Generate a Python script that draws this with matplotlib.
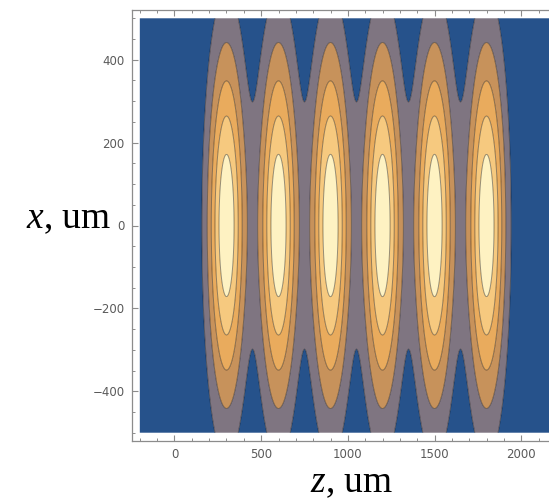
import numpy as np
import matplotlib
matplotlib.use("Agg")
import matplotlib.pyplot as plt
from matplotlib.ticker import MultipleLocator

# Focal spot positions along z (um) and beam parameters
focus_z = [300, 600, 900, 1200, 1500, 1800]
beam_radius_x = 425.0      # 1/e radius of the transverse profile, um
spot_length_z = 106.8      # 1/e half-length of each focal spot, um

# Plot domain (um)
z_range = [-200, 2200]
x_range = [-500, 500]

# Contour levels (relative intensity) and band colours
contour_levels = [0.17, 0.34, 0.51, 0.68, 0.85]
band_colors = ["#26528b", "#7f7581", "#c7925b", "#e9ab5d", "#f6c97f", "#fef2c2"]

x_major_ticks = [0, 500, 1000, 1500, 2000]
y_major_ticks = [-400, -200, 0, 200, 400]

z = np.linspace(z_range[0], z_range[1], 900)
x = np.linspace(x_range[0], x_range[1], 600)
Z, X = np.meshgrid(z, x)
axial = sum(np.exp(-((Z - zc) / spot_length_z) ** 2) for zc in focus_z)
intensity = np.exp(-(X / beam_radius_x) ** 2) * axial

fig = plt.figure(figsize=(5.49, 5.01), dpi=100)
ax = fig.add_axes([131.5 / 549, 60 / 501, 432.7 / 549, 431 / 501])

levels = [-1.0] + contour_levels + [2.0]
ax.contourf(Z, X, intensity, levels=levels, colors=band_colors, antialiased=True)
ax.contour(Z, X, intensity, levels=contour_levels, colors="#000000",
           linewidths=0.7, alpha=0.4)

ax.set_xlim(-248, 2248)
ax.set_ylim(-520, 520)

frame_color = "#8c8c8c"
for side in ax.spines.values():
    side.set_color(frame_color)
    side.set_linewidth(0.9)

ax.set_xticks(x_major_ticks)
ax.set_yticks(y_major_ticks)
ax.xaxis.set_minor_locator(MultipleLocator(100))
ax.yaxis.set_minor_locator(MultipleLocator(50))
ax.tick_params(which="both", direction="in", top=True, right=True,
               color=frame_color, labelcolor="#5a5a5a", labelsize=8.5)
ax.tick_params(which="major", length=4.5, width=0.8, pad=5)
ax.tick_params(which="minor", length=2.5, width=0.7)

plt.rcParams["mathtext.fontset"] = "custom"
plt.rcParams["mathtext.rm"] = "Liberation Serif"
plt.rcParams["mathtext.it"] = "Liberation Serif:italic"

fig.text(352 / 549, 1 - 492 / 501, r"$z$, um", family="Liberation Serif",
         fontsize=27, ha="center", va="baseline")
fig.text(26 / 549, 1 - 228 / 501, r"$x$, um", family="Liberation Serif",
         fontsize=27, ha="left", va="baseline")

fig.savefig("out.png", dpi=100)
